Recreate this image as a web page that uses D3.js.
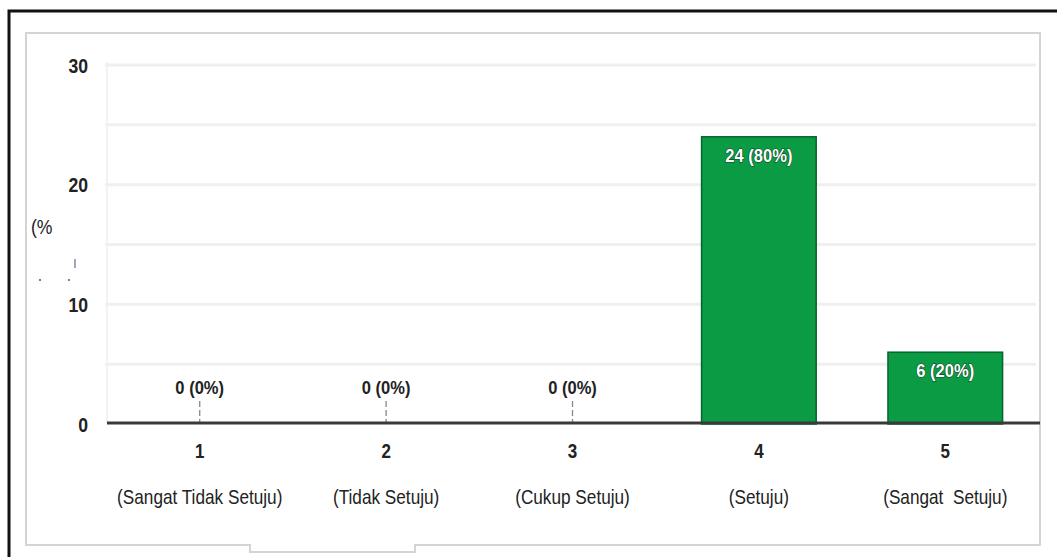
<!DOCTYPE html>
<html><head><meta charset="utf-8">
<script src="https://cdn.jsdelivr.net/npm/d3@7"></script>
<style>
html,body{margin:0;padding:0;background:#fff;}
svg{display:block;font-family:"Liberation Sans",Arial,sans-serif;}
text{white-space:pre;}
</style></head>
<body>
<svg id="c" width="1057" height="557"></svg>
<script>
const categories = ["1","2","3","4","5"];
const categoryNames = ["(Sangat Tidak Setuju)","(Tidak Setuju)","(Cukup Setuju)","(Setuju)","(Sangat  Setuju)"];
const counts = [0,0,0,24,6];
const percents = [0,0,0,80,20];
const yTicks = [0,10,20,30];
const gridTicks = [5,10,15,20,25,30];

const svg = d3.select("#c");
// outer frame
svg.append("path").attr("d","M9,557 L9,11 L1057,11").attr("fill","none").attr("stroke","#111").attr("stroke-width",3);
svg.append("path").attr("d","M26,545 L26,33 L1040,33 L1040,545 L415,545 L415,552 L250,552 L250,545 Z")
  .attr("fill","#fff").attr("stroke","#d4d4d4").attr("stroke-width",2);

const x = d3.scaleBand().domain(categories).range([107,1038]).paddingInner(0.385).paddingOuter(0.19);
const y = d3.scaleLinear().domain([0,30]).range([424,65]);

// condensed text helper
function ctext(sel, px, py, txt, opts){
  const g = sel.append("g").attr("transform",`translate(${px},${py}) scale(${opts.sx||0.88},1)`);
  const t = g.append("text").attr("text-anchor",opts.anchor||"middle")
    .attr("font-size",opts.size||16).attr("font-weight",opts.weight||"normal")
    .attr("fill",opts.fill||"#222").text(txt);
  if(opts.stroke){ t.attr("stroke",opts.stroke).attr("stroke-width",opts.sw||0.8).attr("paint-order","stroke"); }
  return t;
}

// gridlines
svg.append("g").selectAll("line").data(gridTicks).join("line")
  .attr("x1",105).attr("x2",1036).attr("y1",d=>y(d)).attr("y2",d=>y(d))
  .attr("stroke","#efefef").attr("stroke-width",3);
svg.append("line").attr("x1",107).attr("x2",107).attr("y1",62).attr("y2",423).attr("stroke","#f2f2f2").attr("stroke-width",2);

// y axis labels (via axis for tick positions)
const yAxis = d3.axisLeft(y).tickValues(yTicks).tickSize(0).tickPadding(0);
const gy = svg.append("g").attr("transform","translate(88,0)").call(yAxis);
gy.select(".domain").remove();
gy.selectAll(".tick").each(function(d){
  const t = d3.select(this);
  t.select("text").remove();
  ctext(t, 0, 7, String(d), {size:20, weight:"bold", anchor:"end", sx:0.88});
});

// y title fragment
ctext(svg, 31, 234, "(%", {size:20, anchor:"start", sx:0.88});
svg.append("line").attr("x1",75).attr("x2",75).attr("y1",259).attr("y2",268).attr("stroke","#6a7a9a").attr("stroke-width",1.3);
svg.append("circle").attr("cx",40).attr("cy",280).attr("r",1.1).attr("fill","#666");
svg.append("circle").attr("cx",69).attr("cy",280).attr("r",1.1).attr("fill","#666");

// bars
svg.append("g").selectAll("rect").data(counts).join("rect")
  .attr("x",(d,i)=>x(categories[i]))
  .attr("y",d=>y(d))
  .attr("width",x.bandwidth())
  .attr("height",d=>y(0)-y(d))
  .attr("fill","#0b9b45").attr("stroke","#05652b").attr("stroke-width",d=>d>0?1.5:0);

// zero ticks
svg.append("g").selectAll("line").data(counts.map((d,i)=>[d,i]).filter(a=>a[0]===0)).join("line")
  .attr("x1",a=>x(categories[a[1]])+x.bandwidth()/2).attr("x2",a=>x(categories[a[1]])+x.bandwidth()/2)
  .attr("y1",401).attr("y2",423).attr("stroke","#888").attr("stroke-width",1.3).attr("stroke-dasharray","6,3");

// baseline
const xAxis = d3.axisBottom(x).tickSize(0).tickPadding(0).tickFormat(()=> "");
const gx = svg.append("g").attr("transform","translate(0,423)").call(xAxis);
gx.select(".domain").remove();
svg.append("line").attr("x1",107).attr("x2",1040).attr("y1",423).attr("y2",423).attr("stroke","#3a3a3a").attr("stroke-width",3);

// value labels
const vl = svg.append("g");
counts.forEach((d,i)=>{
  const cx = x(categories[i])+x.bandwidth()/2;
  if(d>0){
    ctext(vl, cx, y(d)+25, `${d} (${percents[i]}%)`, {size:18, weight:"bold", fill:"#fff", stroke:"#0a4a22", sw:1.2, sx:0.92});
  } else {
    ctext(vl, cx, 394, `${d} (${percents[i]}%)`, {size:18, weight:"bold", fill:"#222", sx:0.92});
  }
});

// category labels
gx.selectAll(".tick").each(function(d,i){
  const t = d3.select(this);
  t.select("text").remove();
  ctext(t, 0, 35, d, {size:20, weight:"bold", sx:0.85});
  ctext(t, 0, 81, categoryNames[i], {size:20, sx:0.86});
});
</script>
</body></html>
